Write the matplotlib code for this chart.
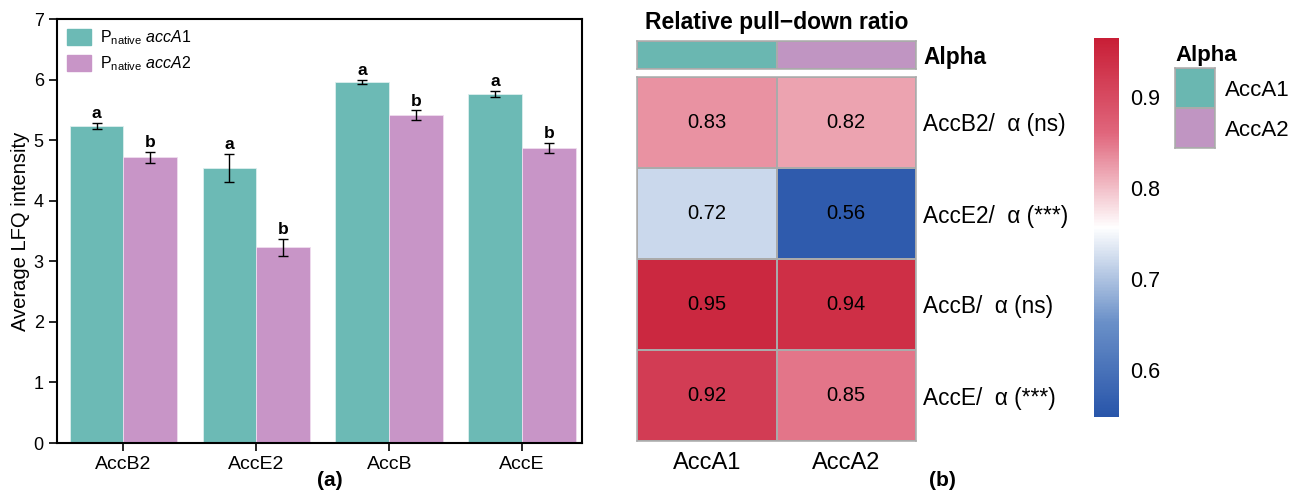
import numpy as np
import matplotlib
matplotlib.use("Agg")
import matplotlib.pyplot as plt
from matplotlib.colors import LinearSegmentedColormap, ListedColormap
from matplotlib.patches import Patch

plt.rcParams['font.family'] = ['Liberation Sans', 'DejaVu Sans']
plt.rcParams['mathtext.fontset'] = 'custom'
plt.rcParams['mathtext.rm'] = 'Liberation Sans'
plt.rcParams['mathtext.it'] = 'Liberation Sans:italic'
plt.rcParams['mathtext.bf'] = 'Liberation Sans:bold'

# (a) bar chart data
proteins = ['AccB2', 'AccE2', 'AccB', 'AccE']
lfq_a1 = [5.23, 4.54, 5.96, 5.76]
err_a1 = [0.05, 0.23, 0.04, 0.05]
lfq_a2 = [4.72, 3.23, 5.41, 4.87]
err_a2 = [0.09, 0.14, 0.08, 0.09]
sig_a1 = ['a', 'a', 'a', 'a']
sig_a2 = ['b', 'b', 'b', 'b']
legend_labels = [r'$\mathrm{P_{native}}$ $\mathit{accA}$$\mathit{1}$',
                 r'$\mathrm{P_{native}}$ $\mathit{accA}$$\mathit{2}$']

# (b) heatmap data
row_labels = ['AccB2/  \u03b1 (ns)', 'AccE2/  \u03b1 (***)',
              'AccB/  \u03b1 (ns)', 'AccE/  \u03b1 (***)']
col_labels = ['AccA1', 'AccA2']
ratio = np.array([[0.83, 0.82],
                  [0.72, 0.56],
                  [0.95, 0.94],
                  [0.92, 0.85]])
cbar_ticks = [0.6, 0.7, 0.8, 0.9]

teal = '#6CBAB5'
purple = '#C895C7'
teal_ann = '#6AB7B1'
purple_ann = '#C095C2'
grid_col = '#AAAAAA'

W, H = 1298, 492
fig = plt.figure(figsize=(W / 100, H / 100), dpi=100)


def px(x0, y0, x1, y1):
    return [x0 / W, 1 - y1 / H, (x1 - x0) / W, (y1 - y0) / H]


# ---------- (a) ----------
ax = fig.add_axes(px(57, 19, 582, 443))
x = np.arange(len(proteins))
w = 0.405
ax.bar(x - w / 2, lfq_a1, w, color=teal, edgecolor='#DDEFEE', linewidth=0.6)
ax.bar(x + w / 2, lfq_a2, w, color=purple, edgecolor='#EFDDEF', linewidth=0.6)
ax.errorbar(x - w / 2, lfq_a1, yerr=err_a1, fmt='none', ecolor='black',
            elinewidth=1, capsize=3.5, capthick=1)
ax.errorbar(x + w / 2, lfq_a2, yerr=err_a2, fmt='none', ecolor='black',
            elinewidth=1, capsize=3.5, capthick=1)
for i in range(len(proteins)):
    ax.text(x[i] - w / 2, lfq_a1[i] + err_a1[i] + 0.03, sig_a1[i],
            ha='center', va='bottom', fontsize=12.5, fontweight='bold')
    ax.text(x[i] + w / 2, lfq_a2[i] + err_a2[i] + 0.03, sig_a2[i],
            ha='center', va='bottom', fontsize=12.5, fontweight='bold')

ax.set_xlim(-0.5, 3.45)
ax.set_ylim(0, 7)
ax.set_xticks(x)
ax.set_xticklabels(proteins, fontsize=14)
ax.set_yticks(range(8))
ax.tick_params(axis='y', labelsize=13, length=6, width=1.2)
ax.tick_params(axis='x', length=6, width=1.2)
for s in ax.spines.values():
    s.set_linewidth(1.5)
ax.set_ylabel('Average LFQ intensity', fontsize=14.5, labelpad=3)
ax.legend(handles=[Patch(color=teal), Patch(color=purple)], labels=legend_labels,
          loc='upper left', frameon=False, fontsize=11.5, handlelength=1.5,
          handleheight=1.1, handletextpad=0.6, labelspacing=0.45,
          borderaxespad=0.4, borderpad=0.2)
fig.text(330 / W, 1 - 481 / H, '(a)', fontsize=15, fontweight='bold',
         ha='center', va='center')

# ---------- (b) ----------
cmap = LinearSegmentedColormap.from_list(
    'bwr_custom', [(0, '#2855AA'), (0.25, '#6A90C8'), (0.5, '#FFFFFF'),
                   (0.75, '#E0667C'), (1, '#C81E36')])
vmin, vmax = 0.548, 0.965

axh = fig.add_axes(px(637, 77, 916, 441))
mesh = axh.pcolormesh(ratio, cmap=cmap, vmin=vmin, vmax=vmax,
                      edgecolor=grid_col, linewidth=1.1)
axh.set_ylim(len(row_labels), 0)
axh.set_xlim(0, len(col_labels))
for i in range(ratio.shape[0]):
    for j in range(ratio.shape[1]):
        axh.text(j + 0.5, i + 0.5, f'{ratio[i, j]:.2f}', ha='center',
                 va='center', fontsize=14.5)
axh.set_xticks(np.arange(len(col_labels)) + 0.5)
axh.set_xticklabels(col_labels, fontsize=17)
axh.set_yticks(np.arange(len(row_labels)) + 0.5)
axh.set_yticklabels(row_labels, fontsize=16.3)
axh.yaxis.tick_right()
axh.tick_params(length=0, pad=5)
axh.tick_params(axis='x', pad=8)
for s in axh.spines.values():
    s.set_color(grid_col)
    s.set_linewidth(1.1)
fig.text(942 / W, 1 - 481 / H, '(b)', fontsize=15, fontweight='bold',
         ha='center', va='center')

# annotation bar
axa = fig.add_axes(px(637, 41, 916, 69))
axa.pcolormesh(np.array([[0, 1]]), cmap=ListedColormap([teal_ann, purple_ann]),
               vmin=0, vmax=1, edgecolor=grid_col, linewidth=1.1)
axa.set_xticks([])
axa.set_yticks([0.5])
axa.set_yticklabels(['Alpha'], fontsize=16.3, fontweight='bold')
axa.yaxis.tick_right()
axa.tick_params(length=0, pad=5)
for s in axa.spines.values():
    s.set_color(grid_col)
    s.set_linewidth(1.1)
axa.set_title('Relative pull\u2212down ratio', fontsize=16.5, fontweight='bold',
              pad=9)

# colorbar
axc = fig.add_axes(px(1094, 38, 1119, 417))
cb = fig.colorbar(mesh, cax=axc, ticks=cbar_ticks)
cb.outline.set_visible(False)
axc.tick_params(length=0, pad=8, labelsize=15.5)

# annotation legend
axl = fig.add_axes(px(1175, 68, 1215, 148))
axl.pcolormesh(np.array([[0], [1]]), cmap=ListedColormap([teal_ann, purple_ann]),
               vmin=0, vmax=1, edgecolor=grid_col, linewidth=1.1)
axl.set_ylim(2, 0)
axl.set_xticks([])
axl.set_yticks([0.5, 1.5])
axl.set_yticklabels(col_labels, fontsize=16)
axl.yaxis.tick_right()
axl.tick_params(length=0, pad=7)
for s in axl.spines.values():
    s.set_color(grid_col)
    s.set_linewidth(1.1)
axl.set_title('Alpha', fontsize=16, fontweight='bold', loc='left', pad=5)

fig.savefig('out.png', dpi=100)
